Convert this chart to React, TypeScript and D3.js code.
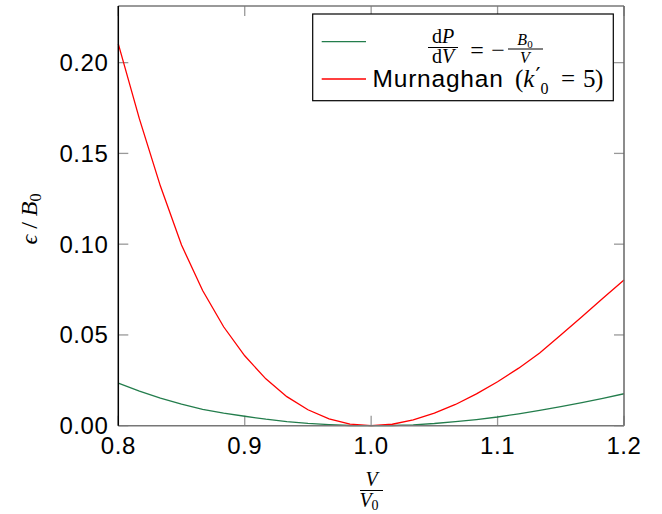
import React from 'react';
import * as d3 from 'd3';

const width = 662;
const height = 514;
const plot = { left: 118.3, right: 624, top: 6, bottom: 425.7 };

// sampled V/V0 positions (25 points between 0.8 and 1.2)
const volumes = [
  0.8, 0.8167, 0.8333, 0.85, 0.8667, 0.8833, 0.9, 0.9167, 0.9333, 0.95, 0.9667, 0.9833, 1.0,
  1.0167, 1.0333, 1.05, 1.0667, 1.0833, 1.1, 1.1167, 1.1333, 1.15, 1.1667, 1.1833, 1.2
];

// dP/dV = -B0/V curve
const simpleEnergy = [
  0.0235, 0.019, 0.0152, 0.0119, 0.009, 0.0069, 0.0052, 0.0036, 0.0023, 0.0013, 0.0006, 0.0001, 0,
  0.0001, 0.0005, 0.0012, 0.0022, 0.0034, 0.0048, 0.0065, 0.0084, 0.0105, 0.0127, 0.0151, 0.0176
];

// Murnaghan k0' = 5 curve
const murnaghanEnergy = [
  0.2103, 0.169, 0.132, 0.0995, 0.0745, 0.0545, 0.0385, 0.0258, 0.016, 0.0088, 0.0038, 0.0009, 0,
  0.0008, 0.0032, 0.0069, 0.0117, 0.0175, 0.0242, 0.0317, 0.04, 0.05, 0.06, 0.0702, 0.0803
];

const xTicks = [0.8, 0.9, 1.0, 1.1, 1.2];
const yTicks = [0, 0.05, 0.1, 0.15, 0.2];

const sans = '"Liberation Sans", Arial, sans-serif';
const serif = '"Liberation Serif", "DejaVu Serif", serif';
const green = '#237d4c';
const red = '#ff0000';

export default function App() {
  const x = d3.scaleLinear().domain([0.8, 1.2]).range([plot.left, plot.right]);
  const y = d3.scaleLinear().domain([0, 0.2312]).range([plot.bottom, plot.top]);

  const line = d3.line<number>()
    .x((_, i) => x(volumes[i]))
    .y(d => y(d));

  const tickLen = 10;

  return (
    <svg width={width} height={height} style={{ position: 'absolute', left: 0, top: 0, background: '#fff' }}>
      {/* ticks on all sides */}
      {xTicks.map((t, i) => (
        <g key={'xt' + i}>
          <line x1={x(t)} x2={x(t)} y1={plot.bottom} y2={plot.bottom - tickLen} stroke="#999" strokeWidth={1.3} />
          <line x1={x(t)} x2={x(t)} y1={plot.top} y2={plot.top + tickLen} stroke="#999" strokeWidth={1.3} />
          <text x={x(t)} y={454} textAnchor="middle" fontFamily={sans} fontSize={24} letterSpacing={0.6} fill="#000">
            {d3.format('.1f')(t)}
          </text>
        </g>
      ))}
      {yTicks.map((t, i) => (
        <g key={'yt' + i}>
          <line x1={plot.left} x2={plot.left + tickLen} y1={y(t)} y2={y(t)} stroke="#999" strokeWidth={1.3} />
          <line x1={plot.right} x2={plot.right - tickLen} y1={y(t)} y2={y(t)} stroke="#999" strokeWidth={1.3} />
          <text x={108.5} y={y(t) + 8.5} textAnchor="end" fontFamily={sans} fontSize={24} letterSpacing={0.6} fill="#000">
            {d3.format('.2f')(t)}
          </text>
        </g>
      ))}

      {/* curves */}
      <path d={line(simpleEnergy) || ''} fill="none" stroke={green} strokeWidth={1.3} />
      <path d={line(murnaghanEnergy) || ''} fill="none" stroke={red} strokeWidth={1.3} />

      {/* frame */}
      <line x1={plot.left} x2={plot.right} y1={plot.top} y2={plot.top} stroke="#777" strokeWidth={1.5} />
      <line x1={plot.right} x2={plot.right} y1={plot.top} y2={plot.bottom} stroke="#666" strokeWidth={1.5} />
      <line x1={plot.left} x2={plot.right} y1={plot.bottom} y2={plot.bottom} stroke="#777" strokeWidth={1.5} />
      <line x1={plot.left} x2={plot.left} y1={plot.top} y2={plot.bottom} stroke="#000" strokeWidth={1.5} />

      {/* legend */}
      <rect x={312.7} y={14} width={300.6} height={86.7} fill="#fff" stroke="#000" strokeWidth={1.2} />
      <line x1={321.7} x2={366} y1={41.7} y2={41.7} stroke={green} strokeWidth={1.3} />
      <line x1={321.7} x2={366} y1={79} y2={79} stroke={red} strokeWidth={1.3} />
      <g fontFamily={serif} fill="#000">
        <text x={443} y={43} textAnchor="middle" fontSize={20}>
          d<tspan fontStyle="italic">P</tspan>
        </text>
        <line x1={428} x2={458} y1={47.5} y2={47.5} stroke="#000" strokeWidth={1} />
        <text x={443} y={63} textAnchor="middle" fontSize={20}>
          d<tspan fontStyle="italic">V</tspan>
        </text>
        <text x={477} y={58} textAnchor="middle" fontSize={24}>=</text>
        <text x={498} y={58} textAnchor="middle" fontSize={24}>−</text>
        <text x={525} y={45} textAnchor="middle" fontSize={16}>
          <tspan fontStyle="italic">B</tspan><tspan fontSize={11} dy={3}>0</tspan>
        </text>
        <line x1={508} x2={543} y1={49} y2={49} stroke="#000" strokeWidth={1} />
        <text x={525} y={63} textAnchor="middle" fontSize={16} fontStyle="italic">V</text>
      </g>
      <text x={372.5} y={87} fontFamily={sans} fontSize={24.5} letterSpacing={0.8} fill="#000">Murnaghan</text>
      <g fontFamily={serif} fill="#000">
        <text x={515} y={87} fontSize={25}>
          (<tspan fontStyle="italic">k</tspan>
          <tspan fontSize={22} fontFamily='"DejaVu Sans", sans-serif' dx={1} dy={-4}>′</tspan>
          <tspan fontSize={16} dx={0} dy={11}>0</tspan>
        </text>
        <text x={568} y={87} fontSize={25} textAnchor="middle">=</text>
        <text x={583} y={87} fontSize={25}>5</text>
        <text x={595} y={87} fontSize={25}>)</text>
      </g>

      {/* axis labels */}
      <g fontFamily={serif} fill="#000">
        <text x={371.7} y={486} textAnchor="middle" fontSize={20} fontStyle="italic">V</text>
        <line x1={360} x2={383} y1={490.5} y2={490.5} stroke="#000" strokeWidth={1} />
        <text x={369} y={507} textAnchor="middle" fontSize={20}>
          <tspan fontStyle="italic">V</tspan><tspan fontSize={14} dy={3}>0</tspan>
        </text>
        <text transform="translate(37,219) rotate(-90)" textAnchor="middle" fontSize={24}>
          <tspan fontStyle="italic">ϵ</tspan> / <tspan fontStyle="italic">B</tspan>
          <tspan fontSize={16} dy={4}>0</tspan>
        </text>
      </g>
    </svg>
  );
}
